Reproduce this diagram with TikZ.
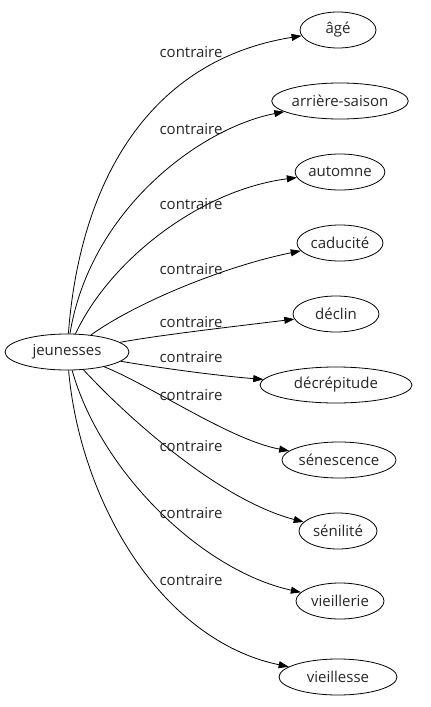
\documentclass[tikz,border=0pt]{standalone}
\usepackage{fontspec}
\setmainfont{Open Sans}
\usetikzlibrary{arrows.meta,shapes.geometric}
\begin{document}
\begin{tikzpicture}[x=1pt,y=-1pt,
  word/.style={draw,ellipse,line width=0.8pt,minimum height=36pt,inner sep=0pt,text=black!85,font=\fontsize{15}{17}\selectfont},
  lab/.style={font=\fontsize{15}{17}\selectfont,text=black!85,inner sep=0pt},
  rel/.style={line width=0.8pt,-{Triangle[length=10pt,width=7pt]}}]
\useasboundingbox (0,0) rectangle (431,707);
\node[word,minimum width=124pt] (j) at (67,352) {jeunesses};
\node[word,minimum width=76pt] (t1) at (338,30) {âgé};
\node[word,minimum width=132pt] (t2) at (340,101) {arrière-saison};
\node[word,minimum width=88pt] (t3) at (340,172) {automne};
\node[word,minimum width=86pt] (t4) at (340,243) {caducité};
\node[word,minimum width=86pt] (t5) at (336,314) {déclin};
\node[word,minimum width=152pt] (t6) at (336,385) {décrépitude};
\node[word,minimum width=102pt] (t7) at (339,460) {sénescence};
\node[word,minimum width=78pt] (t8) at (338,531) {sénilité};
\node[word,minimum width=88pt] (t9) at (340,601) {vieillerie};
\node[word,minimum width=118pt] (t10) at (338,677) {vieillesse};
\draw[rel] (j) .. controls (80,180) and (150,60) .. (t1);
\draw[rel] (j) .. controls (90,210) and (200,128) .. (t2);
\draw[rel] (j) .. controls (110,260) and (200,190) .. (t3);
\draw[rel] (j) .. controls (140,300) and (230,265) .. (t4);
\draw[rel] (j) .. controls (160,335) and (230,327) .. (t5);
\draw[rel] (j) .. controls (160,368) and (220,376) .. (t6);
\draw[rel] (j) .. controls (150,385) and (230,440) .. (t7);
\draw[rel] (j) .. controls (130,420) and (220,500) .. (t8);
\draw[rel] (j) .. controls (100,470) and (200,570) .. (t9);
\draw[rel] (j) .. controls (80,500) and (160,640) .. (t10);
\node[lab] (l1) at (191,52) {contraire};
\node[lab] (l2) at (191,129) {contraire};
\node[lab] (l3) at (191,204) {contraire};
\node[lab] (l4) at (191,269) {contraire};
\node[lab] (l5) at (191,322) {contraire};
\node[lab] (l6) at (191,357) {contraire};
\node[lab] (l7) at (191,395) {contraire};
\node[lab] (l8) at (191,446) {contraire};
\node[lab] (l9) at (191,513) {contraire};
\node[lab] (l10) at (191,580) {contraire};
\end{tikzpicture}
\end{document}
